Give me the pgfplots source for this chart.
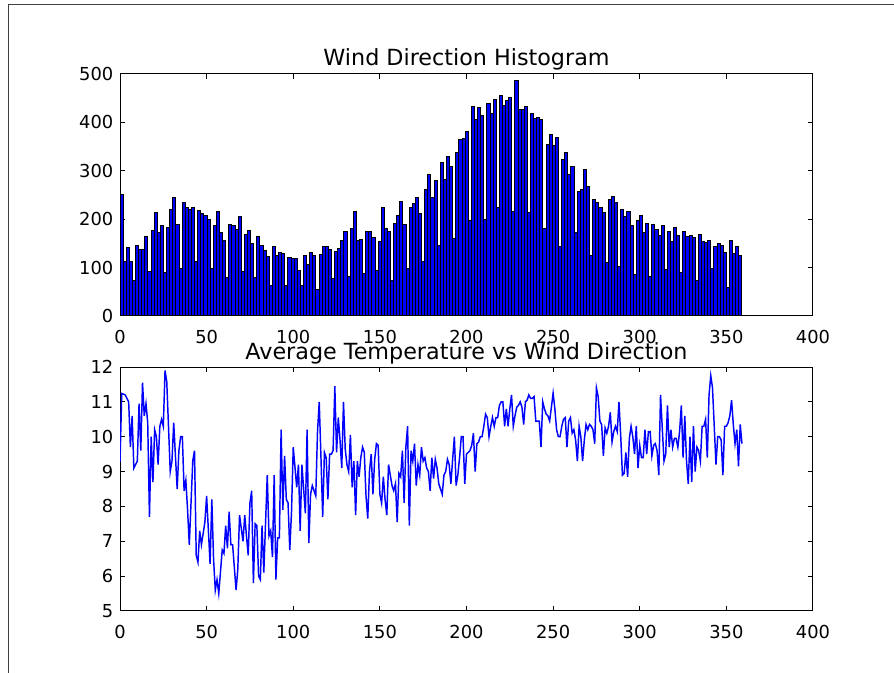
\documentclass[border=0pt]{standalone}
\usepackage{fontspec}
\setmainfont{DejaVu Sans}
\usepackage{pgfplots}
\usepackage{pgfplotstable}
\pgfplotsset{compat=1.18}

\pgfplotstableread{
h
251
113
141
113
74
146
137
137
165
92
177
213
172
186
89
183
220
244
190
98
234
225
220
225
113
218
212
208
200
99
186
215
172
155
79
188
186
179
206
91
169
177
150
79
165
146
135
122
63
144
125
131
129
63
120
118
118
95
63
125
107
132
124
55
127
144
144
137
77
134
140
155
175
82
180
216
155
159
88
175
175
162
93
153
225
180
175
74
192
208
236
189
98
225
232
244
212
113
261
293
244
280
146
318
282
329
308
160
337
365
367
381
197
433
407
430
415
199
440
419
447
225
456
434
445
452
215
486
427
427
433
213
419
409
411
405
180
354
375
352
368
144
324
338
292
308
172
258
261
302
268
125
240
235
225
213
111
240
246
235
103
220
205
216
186
86
198
208
172
192
82
190
179
167
186
96
175
153
182
166
89
175
165
167
162
74
168
153
151
155
98
144
150
146
132
58
157
129
144
124
124
}\histdata

\pgfplotstableread{
d t
0 9.28
1 11.24
3 11.2
5 11.0
6 9.7
7 10.6
8 9.1
10 9.3
11 10.95
12 9.6
13 11.55
14 10.6
15 10.95
16 10.4
17 7.7
18 10.0
19 8.7
20 10.2
21 10.0
22 9.2
23 10.3
24 10.5
25 10.3
26 11.9
27 11.57
29 9.0
30 9.3
31 10.4
33 8.5
34 9.6
35 10.0
36 10.0
37 8.45
38 8.75
39 7.9
40 6.9
42 9.3
43 9.6
44 6.6
45 6.4
46 7.3
47 6.9
49 7.55
50 8.3
52 6.35
53 8.2
54 6.5
55 5.6
56 5.9
57 5.5
59 6.75
60 6.65
61 7.45
62 6.8
63 7.85
64 6.9
65 6.9
67 5.6
68 6.2
69 7.75
71 7.0
72 7.75
73 7.15
74 6.6
75 8.1
76 8.45
77 5.8
78 7.5
79 7.45
80 6.0
81 5.9
82 7.45
83 6.1
85 8.9
86 7.15
87 7.3
88 6.55
89 8.9
90 5.9
91 7.1
92 7.1
93 10.2
94 7.9
95 9.45
96 8.2
97 8.1
98 6.75
99 7.85
100 9.7
102 8.55
103 9.2
104 7.3
105 9.2
107 7.8
108 10.2
109 6.95
110 8.35
111 8.6
113 8.3
114 10.15
115 11.0
116 9.4
117 7.7
118 9.55
119 9.4
120 8.2
121 9.5
122 9.5
123 9.6
124 11.45
125 9.55
126 10.55
127 9.9
128 9.1
129 11.0
130 9.65
131 9.2
132 9.0
133 10.05
134 8.55
135 9.3
136 7.75
137 9.3
138 8.85
139 9.4
140 9.7
141 9.55
142 8.3
143 7.65
144 9.0
145 9.5
146 8.35
147 9.35
148 9.8
149 9.75
150 8.35
151 8.1
152 8.85
153 8.2
154 7.75
155 9.2
157 8.6
158 8.45
159 8.65
160 7.55
161 8.95
162 8.85
163 9.6
164 8.1
165 9.7
166 10.3
167 7.45
168 9.6
169 9.3
170 9.8
171 8.6
172 9.2
173 8.9
174 9.7
175 9.3
176 9.4
177 9.1
178 9.0
179 8.45
180 9.4
181 8.8
182 9.35
183 9.1
184 8.65
186 8.35
187 8.9
188 9.0
189 9.35
190 9.2
191 8.65
192 9.35
193 10.0
194 8.6
195 8.9
196 9.4
197 10.0
198 10.0
199 8.65
200 9.5
201 9.55
202 9.6
203 9.75
204 10.1
205 9.0
206 9.8
207 9.85
208 10.0
209 10.0
210 10.3
211 10.65
212 10.55
213 10.0
214 10.3
215 10.55
216 10.3
217 10.55
218 10.55
219 10.9
220 11.0
221 11.0
222 10.3
223 10.8
224 10.3
225 10.8
226 11.2
227 10.3
228 10.6
229 10.85
230 10.9
231 11.0
232 10.85
233 10.35
234 11.0
235 11.05
236 11.2
237 11.1
238 11.1
239 11.15
240 10.45
241 10.45
242 10.45
243 9.7
244 11.0
245 10.8
246 10.65
247 10.6
248 10.45
250 11.25
251 10.8
252 10.2
253 10.0
254 10.0
255 10.3
256 10.5
257 10.55
258 9.7
259 10.45
260 10.55
261 10.1
262 10.2
263 9.9
264 9.3
265 10.3
266 10.0
267 9.3
268 9.9
269 10.35
270 10.2
271 10.35
272 10.3
273 10.2
274 9.8
275 11.4
276 11.15
277 10.45
278 10.35
279 9.45
280 10.25
281 10.1
282 10.3
283 10.7
284 9.85
285 10.15
286 10.3
287 10.15
288 11.0
289 10.05
290 8.9
291 8.95
292 9.55
293 8.85
294 9.95
295 10.3
296 10.0
297 9.5
298 10.3
299 9.1
300 9.75
301 9.4
302 9.4
303 10.2
304 9.5
305 10.15
306 10.15
307 9.45
308 9.75
309 9.8
310 9.6
311 8.9
312 11.2
313 10.25
314 9.3
315 9.5
316 10.9
317 9.7
318 10.2
319 9.7
320 9.95
321 9.95
322 9.7
323 10.15
324 10.9
325 9.4
326 10.6
327 9.3
328 8.65
329 10.0
330 8.7
331 10.3
332 9.0
333 9.7
334 9.6
335 9.3
336 10.3
337 10.3
338 10.5
339 9.4
340 11.2
341 11.75
342 11.4
343 10.3
344 9.2
345 10.0
346 10.0
347 9.9
348 8.9
349 10.3
350 10.3
351 10.4
352 10.6
353 11.05
354 10.35
355 9.8
356 10.2
357 9.15
358 10.35
359 9.8
}\tempdata

\begin{document}
\begin{tikzpicture}
\path[use as bounding box] (0pt,0pt) rectangle (670.5pt,504.75pt);
\draw[black!75, line width=0.75pt] (6pt,0pt) -- (6pt,501pt) -- (670.5pt,501pt);
\pgfplotsset{
  every axis/.append style={
    scale only axis,
    width=519.75pt,
    anchor=south west,
    axis line style={line width=0.75pt},
    every tick/.style={black, line width=0.75pt},
    major tick length=4pt,
    tick align=inside,
    xmin=0, xmax=400, xtick={0,50,...,400},
    minor tick num=0,
    /pgf/number format/assume math mode=true,
    tick label style={font=\fontsize{13.4}{16}\selectfont},
    xticklabel style={yshift=-6.8pt},
    yticklabel style={xshift=-1.5pt},
    title style={font=\fontsize{16.7}{20}\selectfont, at={(0.5,1)}, anchor=base, yshift=0pt},
  }
}
\begin{axis}[
  at={(90pt,267.75pt)},
  height=181.5pt,
  ymin=0, ymax=500, ytick={0,100,...,500},
  title={Wind Direction Histogram},
]
\addplot[ybar interval, fill=blue, draw=black, line width=0.75pt]
  table[x expr={\coordindex*1.795}, y=h] {\histdata};
\end{axis}
\begin{axis}[
  at={(90pt,46.5pt)},
  height=183pt,
  ymin=5, ymax=12, ytick={5,6,...,12},
  title={Average Temperature vs Wind Direction},
]
\addplot[blue, line width=1.1pt, mark=none] table[x=d, y=t] {\tempdata};
\end{axis}
\end{tikzpicture}
\end{document}
